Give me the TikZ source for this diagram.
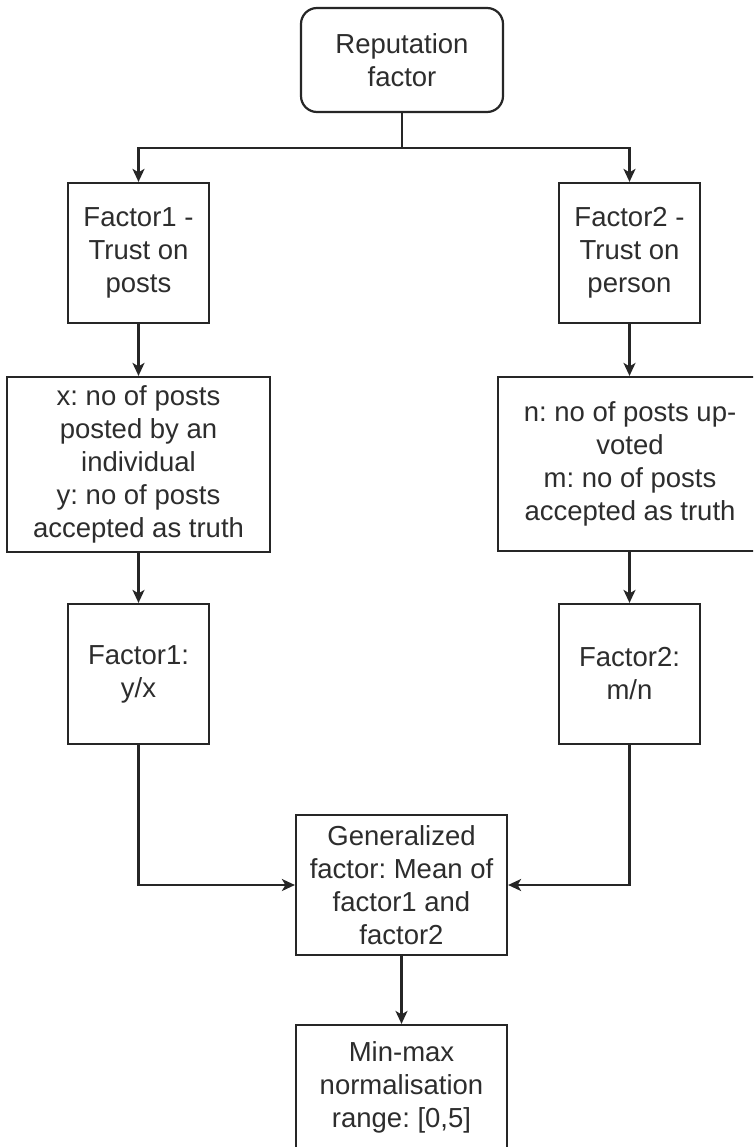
\documentclass[tikz,border=0pt]{standalone}
\usepackage{fontspec}
\setmainfont{Liberation Sans}
\usetikzlibrary{arrows.meta}
\definecolor{ink}{RGB}{38,38,38}
\definecolor{txt}{RGB}{45,45,45}
\frenchspacing
\begin{document}
\begin{tikzpicture}[x=1pt,y=-1pt,
  box/.style={draw=ink, line width=2.2pt, rectangle, align=center,
    text=txt, inner sep=0pt,
    font=\fontsize{27.5}{33}\selectfont},
  roundbox/.style={box, rounded corners=16pt},
  link/.style={draw=ink, line width=2.2pt},
  arr/.style={link, -{Stealth[length=13pt, width=12pt, inset=3.5pt]}}]
\useasboundingbox (0,0) rectangle (753,1147);
\clip (0,0) rectangle (753,1147);
\fill[white] (0,0) rectangle (753,1147);

% boxes
\node[roundbox, minimum width=202pt, minimum height=104pt] (rep) at (402,60) {Reputation\\factor};
\node[box, minimum width=141pt, minimum height=140pt] (f1) at (138.5,253) {Factor1 -\\Trust on\\posts};
\node[box, minimum width=141pt, minimum height=140pt] (f2) at (629.5,253) {Factor2 -\\Trust on\\person};
\node[box, minimum width=263pt, minimum height=175pt] (xy) at (138.5,464.5) {x: no of posts\\posted by an\\individual\\y: no of posts\\accepted as truth};
\node[box, minimum width=264pt, minimum height=174pt] (nm) at (630,464) {n: no of posts up-\\voted\\m: no of posts\\accepted as truth};
\node[box, minimum width=141pt, minimum height=140pt] (r1) at (138.5,674) {Factor1:\\y/x};
\node[box, minimum width=141pt, minimum height=140pt] (r2) at (629.5,674) {Factor2:\\m/n};
\node[box, minimum width=211pt, minimum height=140pt] (gen) at (401.5,885) {Generalized\\factor: Mean of\\factor1 and\\factor2};
\node[box, minimum width=211pt, minimum height=124pt] (mm) at (401.5,1087) {Min-max\\normalisation\\range: [0,5]};

% connectors
\coordinate (split) at (402,148);
\draw[link] (rep.south) -- (split);
\draw[arr] (split) -| (f1.north);
\draw[arr] (split) -| (f2.north);
\draw[arr] (f1.south) -- (xy.north -| f1.south);
\draw[arr] (f2.south) -- (nm.north -| f2.south);
\draw[arr] (xy.south -| r1.north) -- (r1.north);
\draw[arr] (nm.south -| r2.north) -- (r2.north);
\draw[arr] (r1.south) |- (gen.west);
\draw[arr] (r2.south) |- (gen.east);
\draw[arr] (gen.south) -- (mm.north);
\end{tikzpicture}
\end{document}
